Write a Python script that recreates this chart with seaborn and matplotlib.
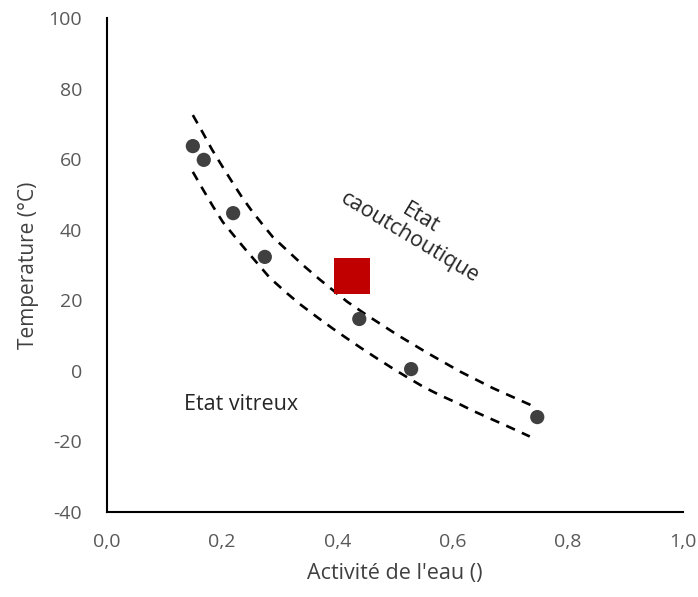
import matplotlib
matplotlib.use("Agg")
import matplotlib.pyplot as plt
import seaborn as sns
import pandas as pd

# Measured points
aw_points = [0.149, 0.168, 0.219, 0.274, 0.438, 0.528, 0.747]
t_points = [63.7, 59.8, 44.7, 32.3, 14.7, 0.5, -13.1]

# Highlighted sample
aw_sample = [0.425]
t_sample = [26.9]

# Upper dashed boundary
aw_upper = [0.149, 0.167, 0.182, 0.200, 0.217, 0.234, 0.252, 0.271, 0.288,
            0.340, 0.370, 0.417, 0.451, 0.504, 0.556, 0.613, 0.670, 0.729, 0.743]
t_upper = [72.5, 67.3, 62.8, 58.0, 53.6, 49.3, 45.2, 41.3, 37.9,
           30.0, 25.8, 19.6, 15.8, 10.2, 5.1, -0.2, -4.9, -9.2, -10.2]

# Lower dashed boundary
aw_lower = [0.149, 0.167, 0.184, 0.201, 0.222, 0.243, 0.262, 0.283, 0.3125,
            0.335, 0.365, 0.391, 0.413, 0.439, 0.469, 0.495, 0.521, 0.549,
            0.578, 0.608, 0.635, 0.665, 0.694, 0.726, 0.734]
t_lower = [56.4, 51.3, 46.6, 42.2, 38.0, 33.9, 30.3, 26.3, 22.0,
           18.9, 15.2, 12.1, 9.6, 6.7, 3.5, 0.8, -1.8, -4.5,
           -6.9, -9.1, -11.3, -13.5, -15.6, -18.0, -18.6]

x_ticks = [0.0, 0.2, 0.4, 0.6, 0.8, 1.0]
x_tick_labels = ["0,0", "0,2", "0,4", "0,6", "0,8", "1,0"]
y_ticks = [-40, -20, 0, 20, 40, 60, 80, 100]

sns.set_theme(style="white")
plt.rcParams['font.family'] = ['Open Sans', 'DejaVu Sans']
plt.rcParams['axes.unicode_minus'] = False

fig = plt.figure(figsize=(6.98, 5.97), dpi=100)
ax = fig.add_axes([0.1533, 0.1424, 0.8252, 0.8274])

df_up = pd.DataFrame({"aw": aw_upper, "T": t_upper})
df_lo = pd.DataFrame({"aw": aw_lower, "T": t_lower})
for d in (df_up, df_lo):
    sns.lineplot(data=d, x="aw", y="T", ax=ax, sort=False, color="black",
                 linewidth=1.9, dashes=False, linestyle=(0, (3.6, 2.9)))

df_pts = pd.DataFrame({"aw": aw_points, "T": t_points})
sns.scatterplot(data=df_pts, x="aw", y="T", ax=ax, color="#404040",
                s=105, edgecolor="none", zorder=3)

df_s = pd.DataFrame({"aw": aw_sample, "T": t_sample})
sns.scatterplot(data=df_s, x="aw", y="T", ax=ax, color="#C00000", marker="s",
                s=680, edgecolor="none", zorder=4)

ax.text(0.134, -9.4, "Etat vitreux", fontsize=15.5, color="#262626",
        ha="left", va="center")
ax.text(0.535, 40.5, "Etat\ncaoutchoutique", fontsize=15.5, color="#262626",
        ha="center", va="center", rotation=-31, linespacing=1.05)

ax.set_xlim(0, 1)
ax.set_ylim(-40, 100)
ax.set_xticks(x_ticks)
ax.set_xticklabels(x_tick_labels)
ax.set_yticks(y_ticks)
ax.tick_params(axis="x", length=0, labelsize=14, labelcolor="#595959", pad=15)
ax.tick_params(axis="y", length=0, labelsize=14, labelcolor="#595959", pad=18)
ax.set_xlabel("Activité de l'eau ()", fontsize=15.5, color="#404040", labelpad=9)
ax.set_ylabel("Temperature (°C)", fontsize=15, color="#404040", labelpad=7)

for side in ("top", "right"):
    ax.spines[side].set_visible(False)
for side in ("left", "bottom"):
    ax.spines[side].set_color("black")
    ax.spines[side].set_linewidth(1.5)

fig.savefig("out.png", dpi=100)
